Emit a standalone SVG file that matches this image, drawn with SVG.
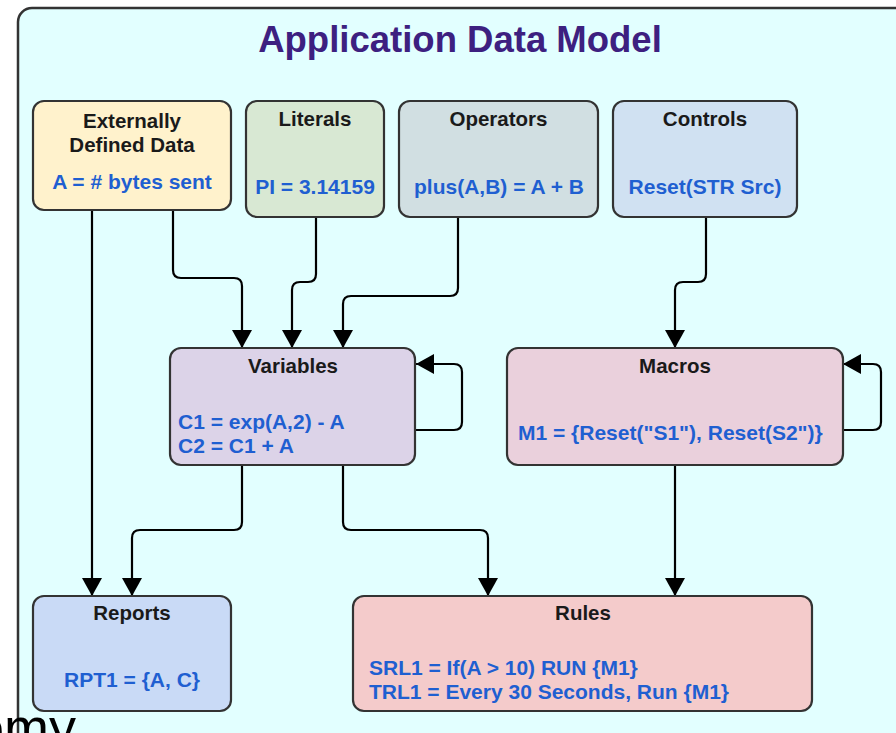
<svg xmlns="http://www.w3.org/2000/svg" width="896" height="733" viewBox="0 0 896 733">
<defs>
<style>
.box{stroke:#333;stroke-width:2.2}
.t{font-family:"Liberation Sans",Arial,sans-serif;font-weight:bold;font-size:20.5px;fill:#1a1a1a}
.b{font-family:"Liberation Sans",Arial,sans-serif;font-weight:bold;font-size:21px;fill:#1f5fd1}
.c{text-anchor:middle}
.edge{fill:none;stroke:#000;stroke-width:2.2;marker-end:url(#arr)}
</style>
<marker id="arr" viewBox="0 0 18 20" markerUnits="userSpaceOnUse" markerWidth="18" markerHeight="20" refX="18" refY="10" orient="auto">
<path d="M0,0 L18,10 L0,20 z" fill="#000"/>
</marker>
</defs>
<rect x="0" y="0" width="896" height="733" fill="#fff"/>
<g id="container">
<rect x="18" y="8" width="900" height="760" rx="14" fill="#e2ffff" stroke="#333" stroke-width="2.5"/>
<text x="460" y="52" text-anchor="middle" font-family="Liberation Sans, Arial, sans-serif" font-weight="bold" font-size="36.5" fill="#3d2080">Application Data Model</text>
</g>
<g id="connectors">
<path class="edge" d="M92,210 V596"/>
<path class="edge" d="M173,210 V270 Q173,278 181,278 H234 Q242,278 242,286 V348"/>
<path class="edge" d="M316,217 V274 Q316,282 308,282 H300 Q292,282 292,290 V348"/>
<path class="edge" d="M458,217 V288 Q458,296 450,296 H351 Q343,296 343,304 V348"/>
<path class="edge" d="M706,217 V274 Q706,282 698,282 H683 Q675,282 675,290 V348"/>
<path class="edge" d="M242,465 V522 Q242,530 234,530 H140 Q132,530 132,538 V596"/>
<path class="edge" d="M343,465 V522 Q343,530 351,530 H480 Q488,530 488,538 V596"/>
<path class="edge" d="M675,465 V596"/>
<path class="edge" d="M416,430 H454 Q462,430 462,422 V372 Q462,364 454,364 H416"/>
<path class="edge" d="M843,430 H873 Q881,430 881,422 V372 Q881,364 873,364 H843"/>
</g>
<g id="external">
<rect class="box" x="33" y="101" width="198" height="109" rx="11" fill="#fff2cc"/>
<text class="t c" x="132" y="128">Externally</text>
<text class="t c" x="132" y="152">Defined Data</text>
<text class="b c" x="132" y="189">A = # bytes sent</text>
</g>
<g id="literals">
<rect class="box" x="246" y="101" width="138" height="116" rx="11" fill="#d8e8d3"/>
<text class="t c" x="315" y="126">Literals</text>
<text class="b c" x="315" y="194">PI = 3.14159</text>
</g>
<g id="operators">
<rect class="box" x="399" y="101" width="199" height="116" rx="11" fill="#d1dfe2"/>
<text class="t c" x="498.5" y="126">Operators</text>
<text class="b c" x="499" y="194">plus(A,B) = A + B</text>
</g>
<g id="controls">
<rect class="box" x="613" y="101" width="184" height="116" rx="11" fill="#d0e1f2"/>
<text class="t c" x="705" y="126">Controls</text>
<text class="b c" x="705" y="194">Reset(STR Src)</text>
</g>
<g id="variables">
<rect class="box" x="170" y="348" width="245" height="117" rx="11" fill="#dcd3e8"/>
<text class="t c" x="293" y="373">Variables</text>
<text class="b" x="178" y="429">C1 = exp(A,2) - A</text>
<text class="b" x="178" y="453">C2 = C1 + A</text>
</g>
<g id="macros">
<rect class="box" x="507" y="348" width="336" height="117" rx="11" fill="#ead0dc"/>
<text class="t c" x="675" y="373">Macros</text>
<text class="b" x="518" y="440">M1 = {Reset("S1"), Reset(S2")}</text>
</g>
<g id="reports">
<rect class="box" x="33" y="596" width="198" height="115" rx="11" fill="#c9daf6"/>
<text class="t c" x="132" y="620">Reports</text>
<text class="b c" x="132" y="687">RPT1 = {A, C}</text>
</g>
<g id="rules">
<rect class="box" x="353" y="596" width="459" height="115" rx="11" fill="#f4cbcb"/>
<text class="t c" x="583" y="620">Rules</text>
<text class="b" x="369" y="675">SRL1 = If(A &gt; 10) RUN {M1}</text>
<text class="b" x="369" y="699">TRL1 = Every 30 Seconds, Run {M1}</text>
</g>
<text x="-26" y="746" font-family="Liberation Sans, Arial, sans-serif" font-size="54" fill="#000">omy</text>
</svg>
